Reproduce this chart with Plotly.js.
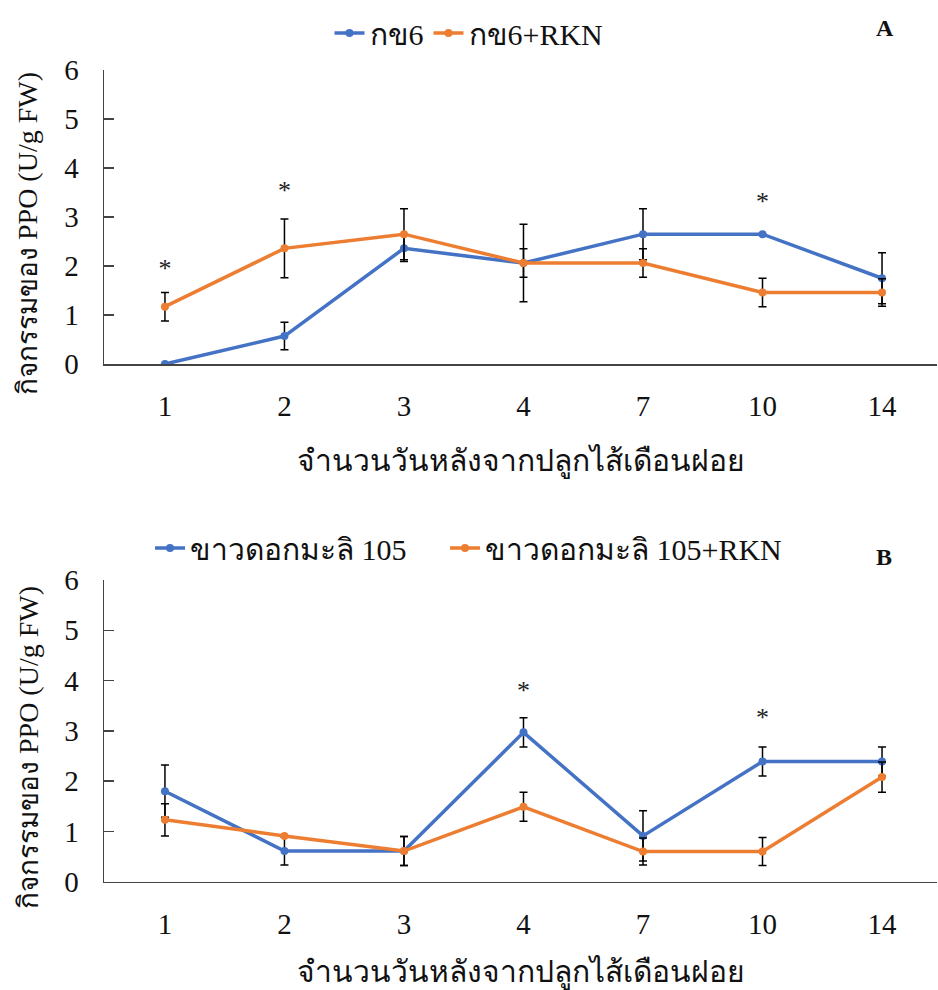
<!DOCTYPE html>
<html>
<head>
<meta charset="utf-8">
<script src="https://cdn.plot.ly/plotly-3.0.1.min.js"></script>
<style>html,body{margin:0;padding:0;background:#fff;}#chart{width:938px;height:990px;}</style>
</head>
<body>
<div id="chart"></div>
<script>
// ---- data ----
const days = ['1', '2', '3', '4', '7', '10', '14'];

// Panel A
const nameA1 = 'กข6';
const nameA2 = 'กข6+RKN';
const valA1 = [0, 0.57, 2.36, 2.06, 2.65, 2.65, 1.75];
const errA1 = [null, 0.28, 0.27, 0.29, 0.52, null, 0.52];
const valA2 = [1.17, 2.36, 2.65, 2.06, 2.06, 1.46, 1.46];
const errA2 = [0.29, 0.6, 0.52, 0.79, 0.29, 0.29, 0.28];
const starA_x = ['1', '2', '10'];
const starA_y = [1.9, 3.51, 3.28];

// Panel B
const nameB1 = 'ขาวดอกมะลิ 105';
const nameB2 = 'ขาวดอกมะลิ 105+RKN';
const valB1 = [1.80, 0.61, 0.61, 2.97, 0.91, 2.39, 2.39];
const errB1 = [0.52, 0.28, 0.29, 0.29, 0.5, 0.29, 0.29];
const valB2 = [1.23, 0.91, 0.61, 1.49, 0.60, 0.60, 2.08];
const errB2 = [0.32, null, 0.29, 0.29, 0.27, 0.28, 0.3];
const starB_x = ['4', '10'];
const starB_y = [3.76, 3.23];

const yTickVals = [0, 1, 2, 3, 4, 5, 6];
const xTitle = 'จำนวนวันหลังจากปลูกไส้เดือนฝอย';
const yTitle = 'กิจกรรมของ PPO (U/g FW)';

// ---- styles ----
const BLUE = '#4472C4', ORANGE = '#ED7D31';
const FONT = 'Liberation Serif, Times New Roman, serif';

function lineTrace(x, y, err, name, color, xa, ya, legend) {
  return {
    type: 'scatter', mode: 'lines+markers', x: x, y: y, name: name,
    xaxis: xa, yaxis: ya, legend: legend,
    line: {color: color, width: 3.5},
    marker: {color: color, size: 8},
    error_y: {type: 'data', array: err, visible: true, color: '#000', thickness: 1.5, width: 4}
  };
}
function starTrace(x, y, xa, ya) {
  return {
    type: 'scatter', mode: 'text', x: x, y: y, text: x.map(() => '*'),
    textposition: 'middle center', textfont: {family: FONT, size: 26, color: '#222'},
    xaxis: xa, yaxis: ya, showlegend: false, hoverinfo: 'skip'
  };
}

const data = [
  lineTrace(days, valA1, errA1, nameA1, BLUE, 'x', 'y', 'legend'),
  lineTrace(days, valA2, errA2, nameA2, ORANGE, 'x', 'y', 'legend'),
  starTrace(starA_x, starA_y, 'x', 'y'),
  lineTrace(days, valB1, errB1, nameB1, BLUE, 'x2', 'y2', 'legend2'),
  lineTrace(days, valB2, errB2, nameB2, ORANGE, 'x2', 'y2', 'legend3'),
  starTrace(starB_x, starB_y, 'x2', 'y2')
];

const H = 990, W = 938;
function xAxis(anchor) {
  return {
    type: 'category', domain: [104 / W, 937 / W], anchor: anchor,
    range: [-0.51, 6.46],
    showline: true, linecolor: '#444', linewidth: 1.5, mirror: false,
    ticks: '', showgrid: false, zeroline: false, fixedrange: true,
    tickfont: {family: FONT, size: 29, color: '#111'},
    ticklabelstandoff: 16,
    title: {text: xTitle, font: {family: FONT, size: 30, color: '#111'}, standoff: 28}
  };
}
function yAxis(anchor, d) {
  return {
    domain: d, anchor: anchor, range: [0, 6], tickvals: yTickVals,
    showline: true, linecolor: '#444', linewidth: 1.5,
    ticks: 'inside', ticklen: 10, tickcolor: '#444', tickwidth: 1.5,
    showgrid: false, zeroline: false, fixedrange: true,
    tickfont: {family: FONT, size: 29, color: '#111'},
    ticklabelstandoff: 18
  };
}
function legendCfg(x, xanchor, yc) {
  return {
    orientation: 'h', x: x, xanchor: xanchor, y: yc, yanchor: 'middle',
    font: {family: FONT, size: 30, color: '#111'}, itemwidth: 30, bgcolor: 'rgba(0,0,0,0)'
  };
}

const layout = {
  width: W, height: H,
  margin: {l: 0, r: 0, t: 0, b: 0},
  paper_bgcolor: '#fff', plot_bgcolor: '#fff',
  font: {family: FONT, color: '#111'},
  showlegend: true,
  xaxis: xAxis('y'),
  yaxis: yAxis('x', [1 - 364 / H, 1 - 70 / H]),
  xaxis2: xAxis('y2'),
  yaxis2: yAxis('x2', [1 - 881.7 / H, 1 - 580 / H]),
  legend: legendCfg(0.5, 'center', 1 - 33 / H),
  legend2: legendCfg(150 / W, 'left', 1 - 548 / H),
  legend3: legendCfg(445 / W, 'left', 1 - 548 / H),
  annotations: [
    {text: '<b>A</b>', xref: 'paper', yref: 'paper', x: 885 / W, y: 1 - 28 / H,
     xanchor: 'center', yanchor: 'middle',
     showarrow: false, font: {family: FONT, size: 24, color: '#111'}},
    {text: '<b>B</b>', xref: 'paper', yref: 'paper', x: 884 / W, y: 1 - 557 / H,
     xanchor: 'center', yanchor: 'middle',
     showarrow: false, font: {family: FONT, size: 24, color: '#111'}},
    {text: yTitle, xref: 'paper', yref: 'paper', x: 28 / W, y: 1 - 234 / H,
     xanchor: 'center', yanchor: 'middle', textangle: -90,
     showarrow: false, font: {family: FONT, size: 28, color: '#111'}},
    {text: yTitle, xref: 'paper', yref: 'paper', x: 28 / W, y: 1 - 748 / H,
     xanchor: 'center', yanchor: 'middle', textangle: -90,
     showarrow: false, font: {family: FONT, size: 28, color: '#111'}}
  ]
};

Plotly.newPlot('chart', data, layout, {displayModeBar: false, staticPlot: true});
</script>
</body>
</html>
